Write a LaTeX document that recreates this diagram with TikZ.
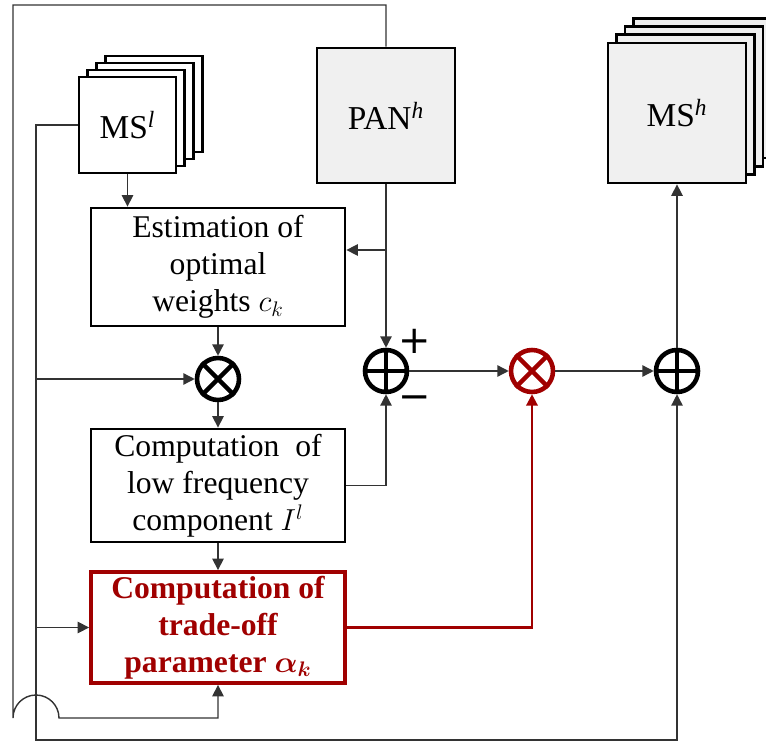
\documentclass[tikz,border=0pt]{standalone}
\usepackage{fontspec}
\setmainfont{Liberation Serif}
\newfontfamily\signfont{DejaVu Sans}
\usepackage{amsmath,amssymb}
\usepackage{bm}
\usetikzlibrary{arrows.meta}
\definecolor{darkred}{RGB}{160,0,0}

\begin{document}
\begin{tikzpicture}[x=0.02cm,y=-0.02cm,
    >={Triangle[length=6.5pt,width=6.5pt]},
    wire/.style={line width=0.8pt,draw=black!80},
    blk/.style={draw,line width=1.6pt,fill=white,minimum width=5.08cm,inner sep=1pt,align=center,font=\fontsize{18}{21}\selectfont},
    img/.style={draw,line width=1.6pt,inner sep=0pt,font=\fontsize{19}{20}\selectfont},
    op/.style={circle,draw,line width=2.6pt,minimum size=0.84cm,inner sep=0pt}]
    \useasboundingbox (0,0) rectangle (766,742);
    % input and output images
    \foreach \i in {3,2,1}
      \node[img,fill=white,minimum width=1.94cm,minimum height=1.92cm] at (127.5+8.7*\i,125-7*\i) {};
    \node[img,fill=white,minimum width=1.94cm,minimum height=1.92cm] (msl) at (127.5,125) {MS\textsuperscript{\itshape l}};
    \node[img,fill=black!6,minimum width=2.76cm,minimum height=2.7cm] (pan) at (386,115.5) {PAN\textsuperscript{\itshape h}};
    \foreach \i in {3,2,1}
      \node[img,fill=black!6,minimum width=2.76cm,minimum height=2.8cm] at (677+8.5*\i,113-8.3*\i) {};
    \node[img,fill=black!6,minimum width=2.76cm,minimum height=2.8cm] (msh) at (677,113) {MS\textsuperscript{\itshape h}};
    % processing blocks
    \node[blk,minimum height=2.36cm] (est) at (218,267) {Estimation of\\ optimal\\ weights $c_k$};
    \node[blk,minimum height=2.26cm] (low) at (218,485.5) {Computation\ \ of\\ low frequency\\ component $I^l$};
    \node[blk,minimum height=2.22cm,draw=darkred,line width=2.2pt,text=darkred,font=\fontsize{18}{21}\selectfont\bfseries] (alpha) at (218,627.5) {Computation of\\ trade-off\\ parameter $\bm{\alpha_k}$};
    % operators
    \node[op] (mult) at (218,379) {};
    \node[op] (sub) at (386,371) {};
    \node[op,draw=darkred] (rmult) at (532,371) {};
    \node[op] (add) at (677,371) {};
    \draw[line width=2.6pt] (mult.north west) -- (mult.south east) (mult.north east) -- (mult.south west);
    \draw[line width=2.6pt,darkred] (rmult.north west) -- (rmult.south east) (rmult.north east) -- (rmult.south west);
    \draw[line width=2.6pt] (sub.north) -- (sub.south) (sub.west) -- (sub.east);
    \draw[line width=2.6pt] (add.north) -- (add.south) (add.west) -- (add.east);
    \node[font=\signfont\fontsize{22}{22}\selectfont] (plus) at (415,341) {+};
    \node[font=\signfont\fontsize{22}{22}\selectfont] (minus) at (415,403) {−};
    % connections
    \coordinate (pj) at (386,250);
    \draw[wire,->] (msl.south) -- (msl.south |- est.north);
    \draw[wire,->] (pan.south) -- (sub.north);
    \draw[wire,->] (pj) -- (pj -| est.east);
    \draw[wire,->] (est.south) -- (mult.north);
    \draw[wire,->] (mult.south) -- (low.north);
    \draw[wire,->] (low.east) -| (sub.south);
    \draw[wire,->] (sub.east) -- (rmult.west);
    \draw[wire,->] (rmult.east) -- (add.west);
    \draw[wire,->] (add.north) -- (msh.south);
    \draw[wire,->] (low.south) -- (alpha.north);
    \draw[wire,draw=darkred,line width=1.3pt,->] (alpha.east) -| (rmult.south);
    % feedback lines
    \coordinate (l2) at (36,740);
    \draw[wire,->] (msl.west) -| (l2) -| (add.south);
    \draw[wire,->] (l2 |- mult.west) -- (mult.west);
    \draw[wire,->] (l2 |- alpha.west) -- (alpha.west);
    \coordinate (t1) at (13,5);
    \coordinate (h1) at (13,718);
    \draw[wire,->] (pan.north) |- (t1) -- (h1) arc[start angle=180,end angle=0,radius=0.46cm] -| (alpha.south);
\end{tikzpicture}
\end{document}
